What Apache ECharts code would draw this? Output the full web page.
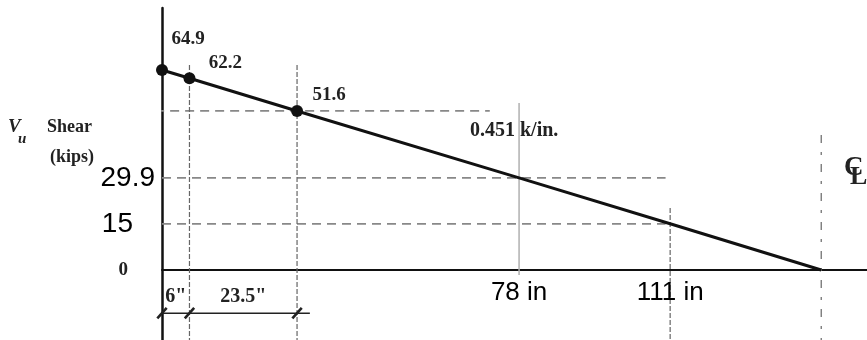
<!DOCTYPE html>
<html>
<head>
<meta charset="utf-8">
<script src="https://cdn.jsdelivr.net/npm/echarts@6/dist/echarts.min.js"></script>
<style>html,body{margin:0;padding:0;background:#fff}#c{width:867px;height:340px}</style>
</head>
<body>
<div id="c"></div>
<script>
// ---- data ----
const xInches = [0, 6, 29.5, 78, 111, 144];
const shearKips = [64.9, 62.2, 51.6, 29.9, 15, 0];
const pointLabels = ['64.9', '62.2', '51.6', '', '', ''];
const markedPoints = [true, true, true, false, false, false];
const yTickValues = [0, 15, 29.9];
const xTickValues = [78, 111];
const xTickLabels = ['78 in', '111 in'];
const dimMarks = [0, 6, 29.5];
const dimLabels = ['6"', '23.5"'];
const slopeLabel = '0.451 k/in.';
const centerLineX = 144;

// ---- styles / layout ----
const SERIF = 'Liberation Serif, Times New Roman, serif';
const SANS = 'Liberation Sans, Arial, sans-serif';
const labelOffsets = [[26, -10], [36, 5], [32, 5]];
const dashGray = '#888888';
const dimY = -14, dimTextY = -8.8, yMin = -22.7, yMax = 85;

const chart = echarts.init(document.getElementById('c'), null, {renderer: 'canvas'});

function seg(points, style) {
  return {type: 'line', data: points, symbol: 'none', silent: true, clip: false,
    lineStyle: style, z: 1, animation: false};
}

const mainData = xInches.map((x, i) => {
  const item = {value: [x, shearKips[i]], symbolSize: markedPoints[i] ? 12 : 0};
  if (pointLabels[i]) {
    item.label = {show: true, position: 'top', formatter: pointLabels[i], offset: labelOffsets[i]};
  }
  return item;
});

const series = [
  // horizontal reference dashes
  seg([[-1.5, shearKips[2]], [71.6, shearKips[2]]], {color: dashGray, width: 1.8, type: [9, 6]}),
  seg([[0, shearKips[3]], [110, shearKips[3]]], {color: dashGray, width: 1.8, type: [9, 6]}),
  seg([[0, shearKips[4]], [110, shearKips[4]]], {color: dashGray, width: 1.8, type: [9, 6]}),
  // vertical reference lines
  seg([[xInches[1], 66.5], [xInches[1], yMin]], {color: '#666', width: 1.2, type: [5, 2]}),
  seg([[xInches[2], 66.5], [xInches[2], yMin]], {color: '#666', width: 1.2, type: [5, 2]}),
  seg([[xInches[3], 54.2], [xInches[3], -1.6]], {color: '#b0b0b0', width: 1.5}),
  seg([[xInches[4], 20.1], [xInches[4], yMin]], {color: '#666', width: 1.2, type: [5, 2]}),
  seg([[centerLineX, 43.8], [centerLineX, yMin]], {color: '#666', width: 1.2, type: [8, 9, 3, 9]}),
  // dimension line
  seg([[-2.2, dimY], [32.3, dimY]], {color: '#222', width: 1.6}),
  {type: 'scatter', silent: true, clip: false, animation: false, z: 3,
    data: dimMarks.map(x => [x, dimY]), symbol: 'rect', symbolSize: [2.6, 14], symbolRotate: -42,
    itemStyle: {color: '#222', opacity: 1}},
  {type: 'scatter', silent: true, clip: false, animation: false, z: 3,
    data: dimLabels.map((t, i) => [(dimMarks[i] + dimMarks[i + 1]) / 2, dimTextY, t]),
    symbolSize: 0, itemStyle: {opacity: 1},
    label: {show: true, position: 'inside', formatter: p => p.value[2],
      fontFamily: SERIF, fontWeight: 'bold', fontSize: 20, color: '#222'}},
  // x tick labels on the zero line
  {type: 'scatter', silent: true, clip: false, animation: false, z: 3,
    data: xTickValues.map((x, i) => [x, 0, xTickLabels[i]]),
    symbolSize: 0, itemStyle: {opacity: 1},
    label: {show: true, position: 'bottom', distance: 10, formatter: p => p.value[2],
      fontFamily: SANS, fontSize: 26, color: '#000'}},
  // shear diagram
  {type: 'line', data: mainData, symbol: 'circle', clip: false, animation: false, z: 5,
    lineStyle: {color: '#111', width: 3}, itemStyle: {color: '#111'},
    label: {fontFamily: SERIF, fontWeight: 'bold', fontSize: 19, color: '#222'}}
];

chart.setOption({
  animation: false,
  backgroundColor: '#fff',
  grid: {left: 162, right: 0, top: 8, bottom: 0, containLabel: false, outerBoundsMode: 'none'},
  xAxis: {
    type: 'value', min: 0, max: 154,
    axisLine: {show: true, onZero: true, lineStyle: {color: '#111', width: 2}},
    axisTick: {show: false}, splitLine: {show: false},
    axisLabel: {show: false}
  },
  yAxis: {
    type: 'value', min: yMin, max: yMax,
    axisLine: {show: true, onZero: true, lineStyle: {color: '#111', width: 2.5}},
    axisTick: {show: false}, splitLine: {show: false},
    axisLabel: {customValues: yTickValues, margin: 7,
      formatter: v => v === 0 ? '{z|0}' : (v === 15 ? '{b|15}' : '{a|' + v + '}'),
      rich: {
        a: {fontFamily: SANS, fontSize: 28, color: '#000'},
        b: {fontFamily: SANS, fontSize: 28, color: '#000', padding: [0, 22, 0, 0]},
        z: {fontFamily: SERIF, fontWeight: 'bold', fontSize: 19, color: '#222', padding: [0, 27, 0, 0]}
      }}
  },
  graphic: [
    {type: 'text', left: 8, top: 118, style: {text: 'V', fontFamily: SERIF, fontStyle: 'italic', fontWeight: 'bold', fontSize: 19, fill: '#222'}},
    {type: 'text', left: 18, top: 132, style: {text: 'u', fontFamily: SERIF, fontStyle: 'italic', fontWeight: 'bold', fontSize: 15, fill: '#222'}},
    {type: 'text', left: 47, top: 118, style: {text: 'Shear', fontFamily: SERIF, fontWeight: 'bold', fontSize: 18, fill: '#222'}},
    {type: 'text', left: 50, top: 148, style: {text: '(kips)', fontFamily: SERIF, fontWeight: 'bold', fontSize: 18, fill: '#222'}},
    {type: 'text', left: 470, top: 121, style: {text: slopeLabel, fontFamily: SERIF, fontWeight: 'bold', fontSize: 20, fill: '#222'}},
    {type: 'text', left: 844, top: 155, style: {text: 'C', fontFamily: SERIF, fontWeight: 'bold', fontSize: 27, fill: '#222'}},
    {type: 'text', left: 850, top: 164, style: {text: 'L', fontFamily: SERIF, fontWeight: 'bold', fontSize: 26, fill: '#222'}}
  ],
  series: series
});
</script>
</body>
</html>
